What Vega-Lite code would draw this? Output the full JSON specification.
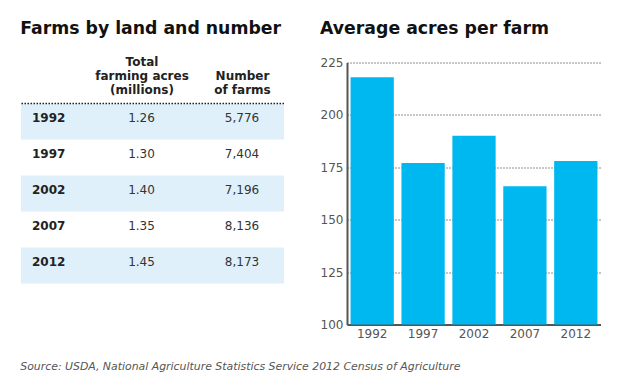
{
  "$schema": "https://vega.github.io/schema/vega-lite/v6.json",
  "padding": {"left": 20, "top": 19.5, "right": 0, "bottom": 0},
  "background": "white",
  "config": {
    "view": {"stroke": null},
    "font": "DejaVu Sans",
    "concat": {"spacing": 35}
  },
  "title": {
    "text": "Source: USDA, National Agriculture Statistics Service 2012 Census of Agriculture",
    "orient": "bottom",
    "anchor": "start",
    "frame": "bounds",
    "font": "DejaVu Sans",
    "fontStyle": "italic",
    "fontWeight": "normal",
    "fontSize": 10.9,
    "color": "#555555",
    "offset": 21
  },
  "datasets": {
    "farms": [
      {"year": "1992", "acres": 1.26, "farms": 5776, "avg": 218},
      {"year": "1997", "acres": 1.30, "farms": 7404, "avg": 177},
      {"year": "2002", "acres": 1.40, "farms": 7196, "avg": 190},
      {"year": "2007", "acres": 1.35, "farms": 8136, "avg": 166},
      {"year": "2012", "acres": 1.45, "farms": 8173, "avg": 178}
    ]
  },
  "hconcat": [
    {
      "width": 263,
      "height": 221,
      "title": {
        "text": "Farms by land and number",
        "anchor": "start",
        "frame": "bounds",
        "fontSize": 17.3,
        "fontWeight": "bold",
        "color": "#111111",
        "offset": 18
      },
      "data": {"name": "farms"},
      "layer": [
        {
          "transform": [{"filter": {"field": "year", "oneOf": ["1992", "2002", "2012"]}}],
          "mark": {"type": "bar", "color": "#dff0fb"},
          "encoding": {
            "y": {"field": "year", "type": "ordinal", "axis": null, "scale": {"paddingInner": 0, "paddingOuter": 0.5694, "align": 1, "round": false}}
          }
        },
        {
          "transform": [{"filter": {"field": "year", "equal": "1992"}}],
          "mark": {"type": "rule", "color": "#222222", "strokeWidth": 1.5, "strokeDash": [1.5, 1.5]},
          "encoding": {
            "y": {"field": "year", "type": "ordinal", "bandPosition": 0}
          }
        },
        {
          "mark": {"type": "text", "align": "left", "dx": -9, "dy": -3, "fontWeight": "bold", "fontSize": 12, "color": "#222222"},
          "encoding": {
            "x": {
              "datum": "Year",
              "type": "nominal",
              "scale": {"type": "point", "domain": ["Year", "Acres", "Number"], "padding": 0.3085, "align": 0.3226, "round": false},
              "axis": {
                "orient": "top",
                "title": null,
                "domain": false,
                "ticks": false,
                "grid": false,
                "labelAngle": 0,
                "labelAlign": "center",
                "labelBaseline": "top",
                "labelOverlap": false,
                "labelBound": false,
                "labelExpr": "datum.value == 'Acres' ? ['Total', 'farming acres', '(millions)'] : datum.value == 'Number' ? ['', 'Number', 'of farms'] : ''",
                "labelFont": "DejaVu Sans",
                "labelFontWeight": "bold",
                "labelFontSize": 12,
                "labelColor": "#222222",
                "labelLineHeight": 14,
                "labelPadding": 6
              }
            },
            "y": {"field": "year", "type": "ordinal"},
            "text": {"field": "year"}
          }
        },
        {
          "mark": {"type": "text", "align": "center", "dy": -3, "fontSize": 12, "color": "#333333"},
          "encoding": {
            "x": {"datum": "Acres", "type": "nominal"},
            "y": {"field": "year", "type": "ordinal"},
            "text": {"field": "acres", "type": "quantitative", "format": ".2f"}
          }
        },
        {
          "mark": {"type": "text", "align": "center", "dy": -3, "fontSize": 12, "color": "#333333"},
          "encoding": {
            "x": {"datum": "Number", "type": "nominal"},
            "y": {"field": "year", "type": "ordinal"},
            "text": {"field": "farms", "type": "quantitative", "format": ","}
          }
        }
      ]
    },
    {
      "width": 254,
      "height": 262,
      "title": {
        "text": "Average acres per farm",
        "anchor": "start",
        "frame": "bounds",
        "fontSize": 17.3,
        "fontWeight": "bold",
        "color": "#111111",
        "offset": 19
      },
      "data": {"name": "farms"},
      "mark": {"type": "bar", "color": "#00b8f0", "clip": true},
      "encoding": {
        "x": {
          "field": "year",
          "type": "ordinal",
          "scale": {"paddingInner": 0.15, "paddingOuter": 0.07},
          "axis": {
            "title": null,
            "labelAngle": 0,
            "domainColor": "#555555",
            "domainWidth": 2,
            "ticks": false,
            "labelColor": "#555555",
            "labelFontSize": 12,
            "labelPadding": 4
          }
        },
        "y": {
          "field": "avg",
          "type": "quantitative",
          "scale": {"domain": [100, 225], "zero": false, "nice": false},
          "axis": {
            "title": null,
            "values": [100, 125, 150, 175, 200, 225],
            "grid": true,
            "gridDash": [1, 2],
            "gridColor": "#222222",
            "gridWidth": 1,
            "domainColor": "#555555",
            "domainWidth": 2,
            "ticks": false,
            "labelColor": "#555555",
            "labelFontSize": 12,
            "labelPadding": 4
          }
        }
      }
    }
  ]
}
